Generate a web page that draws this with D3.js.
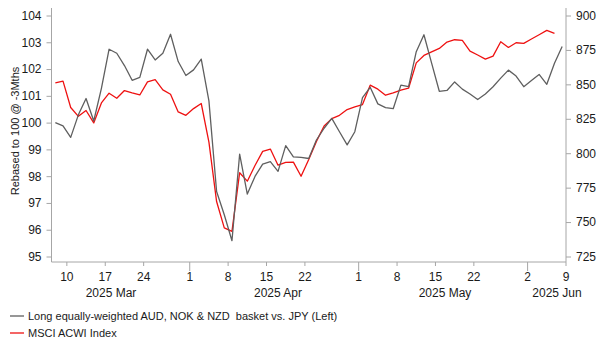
<!DOCTYPE html>
<html>
<head>
<meta charset="utf-8">
<script src="https://cdn.jsdelivr.net/npm/d3@7"></script>
<style>
  html, body { margin: 0; padding: 0; background: #fff; }
  svg { display: block; font-family: "Liberation Sans", Arial, sans-serif; }
</style>
</head>
<body>
<svg id="chart" width="603" height="352"></svg>
<script>
// ---------- DATA ----------
const startDate = "2025-03-07";
const endDate = "2025-06-09";

// Long equally-weighted AUD, NOK & NZD basket vs. JPY (left axis), one value per weekday
const basketValues = [
  100.00, 99.88, 99.45, 100.29, 100.90, 100.06, 101.28, 102.74, 102.59, 102.13,
  101.58, 101.69, 102.74, 102.34, 102.59, 103.30, 102.28, 101.76, 101.97, 102.37,
  100.81, 97.43, 96.56, 95.59, 98.82, 97.33, 97.99, 98.45, 98.54, 98.18,
  99.14, 98.72, 98.70, 98.66, 99.35, 99.79, 100.16, 99.66, 99.17, 99.66,
  100.93, 101.32, 100.70, 100.56, 100.52, 101.40, 101.34, 102.65, 103.28, 102.22,
  101.17, 101.20, 101.52, 101.25, 101.07, 100.86, 101.07, 101.34, 101.66, 101.96,
  101.74, 101.34, 101.57, 101.80, 101.43, 102.22, 102.84
];

// MSCI ACWI Index (right axis)
const msciValues = [
  851.1, 852.3, 833.2, 826.8, 831.0, 822.0, 836.5, 843.6, 839.9, 845.5,
  843.8, 842.3, 851.8, 853.5, 846.0, 842.8, 830.0, 827.5, 832.4, 836.1,
  808.1, 764.9, 745.8, 743.3, 785.8, 779.7, 791.1, 801.3, 803.0, 791.3,
  793.3, 793.5, 783.3, 795.5, 808.6, 819.8, 825.1, 827.5, 831.7, 833.6,
  835.3, 849.4, 846.5, 842.1, 843.8, 845.8, 847.2, 865.6, 871.0, 873.6,
  876.1, 880.7, 882.4, 881.9, 874.1, 871.3, 868.3, 870.5, 880.9, 876.8,
  880.2, 879.8, 882.9, 886.0, 889.2, 887.0, null
];

const leftTicks = [95, 96, 97, 98, 99, 100, 101, 102, 103, 104];
const rightTicks = [725, 750, 775, 800, 825, 850, 875, 900];
const dayTickDates = ["2025-03-10", "2025-03-17", "2025-03-24", "2025-04-01", "2025-04-08",
  "2025-04-15", "2025-04-22", "2025-05-01", "2025-05-08", "2025-05-15", "2025-05-22",
  "2025-06-02", "2025-06-09"];
const monthStartDates = ["2025-04-01", "2025-05-01", "2025-06-02"];
const monthLabels = ["2025 Mar", "2025 Apr", "2025 May", "2025 Jun"];

const seriesNames = [
  "Long equally-weighted AUD, NOK & NZD  basket vs. JPY (Left)",
  "MSCI ACWI Index"
];
const seriesColors = ["#5f5f5f", "#ee1111"];

// ---------- LAYOUT ----------
const parse = d3.utcParse("%Y-%m-%d");
const fmt = d3.utcFormat("%Y-%m-%d");
const dates = d3.utcDays(parse(startDate), d3.utcDay.offset(parse(endDate), 1))
  .filter(d => d.getUTCDay() !== 0 && d.getUTCDay() !== 6);
const idxOf = s => dates.findIndex(d => fmt(d) === s);

const plotLeft = 51.5, plotRight = 566, plotTop = 8, plotBottom = 262;

const x = d3.scaleLinear().domain([-0.5, dates.length - 0.5]).range([plotLeft, plotRight]);
const step = x(1) - x(0);
const yL = d3.scaleLinear().domain([95, 104]).range([256.5, 15.5]);
const yR = d3.scaleLinear().domain([725, 900]).range([256.5, 15.5]);

const svg = d3.select("#chart");
const axisColor = "#a6a6a6";
const textColor = "#1a1a1a";

// Left axis
const gL = svg.append("g").attr("transform", `translate(${plotLeft},0)`)
  .call(d3.axisLeft(yL).tickValues(leftTicks).tickSize(5).tickPadding(5).tickFormat(d3.format("d")));
gL.select(".domain").remove();
gL.selectAll(".tick line").attr("stroke", axisColor);
gL.selectAll(".tick text").attr("fill", textColor).style("font-size", "12px")
  .style("font-family", "'Liberation Sans', Arial, sans-serif");
svg.append("line").attr("x1", plotLeft).attr("x2", plotLeft).attr("y1", plotTop).attr("y2", plotBottom)
  .attr("stroke", axisColor);

// Right axis
const gR = svg.append("g").attr("transform", `translate(${plotRight},0)`)
  .call(d3.axisRight(yR).tickValues(rightTicks).tickSize(5).tickPadding(5).tickFormat(d3.format("d")));
gR.select(".domain").remove();
gR.selectAll(".tick line").attr("stroke", axisColor);
gR.selectAll(".tick text").attr("fill", textColor).style("font-size", "12px")
  .style("font-family", "'Liberation Sans', Arial, sans-serif");
svg.append("line").attr("x1", plotRight).attr("x2", plotRight).attr("y1", plotTop).attr("y2", plotBottom)
  .attr("stroke", axisColor);

// Bottom axis
svg.append("line").attr("x1", plotLeft).attr("x2", plotRight).attr("y1", plotBottom).attr("y2", plotBottom)
  .attr("stroke", axisColor);
const tickX = s => x(idxOf(s)) + step / 2;
dayTickDates.forEach(s => {
  const major = monthStartDates.includes(s);
  svg.append("line").attr("x1", tickX(s)).attr("x2", tickX(s))
    .attr("y1", plotBottom).attr("y2", plotBottom + (major ? 9 : 4))
    .attr("stroke", axisColor);
  svg.append("text").attr("x", tickX(s)).attr("y", 281)
    .attr("text-anchor", "middle").attr("fill", textColor).style("font-size", "12px")
    .text(String(+s.slice(8)));
});
// month labels
const monthCenters = [111, 278, 445, 557];
monthLabels.forEach((m, i) => {
  svg.append("text").attr("x", monthCenters[i]).attr("y", 297)
    .attr("text-anchor", "middle").attr("fill", textColor).style("font-size", "12px")
    .text(m);
});

// Y axis title
svg.append("text")
  .attr("transform", `translate(19,131) rotate(-90)`)
  .attr("text-anchor", "middle").attr("fill", textColor).style("font-size", "11px")
  .text("Rebased to 100 @ -3Mths");

// Lines
const lineL = d3.line().defined(d => d != null).x((d, i) => x(i)).y(d => yL(d));
const lineR = d3.line().defined(d => d != null).x((d, i) => x(i)).y(d => yR(d));
svg.append("path").datum(msciValues).attr("d", lineR)
  .attr("fill", "none").attr("stroke", seriesColors[1]).attr("stroke-width", 1.3).attr("stroke-linejoin", "round");
svg.append("path").datum(basketValues).attr("d", lineL)
  .attr("fill", "none").attr("stroke", seriesColors[0]).attr("stroke-width", 1.3).attr("stroke-linejoin", "round");

// Legend
seriesNames.forEach((name, i) => {
  const yy = 316 + i * 17;
  svg.append("line").attr("x1", 10).attr("x2", 24).attr("y1", yy).attr("y2", yy)
    .attr("stroke", seriesColors[i]).attr("stroke-width", 1.3);
  svg.append("text").attr("x", 28).attr("y", yy + 4).attr("fill", textColor)
    .style("font-size", "11px").style("white-space", "pre")
    .attr("xml:space", "preserve")
    .text(name);
});
</script>
</body>
</html>
